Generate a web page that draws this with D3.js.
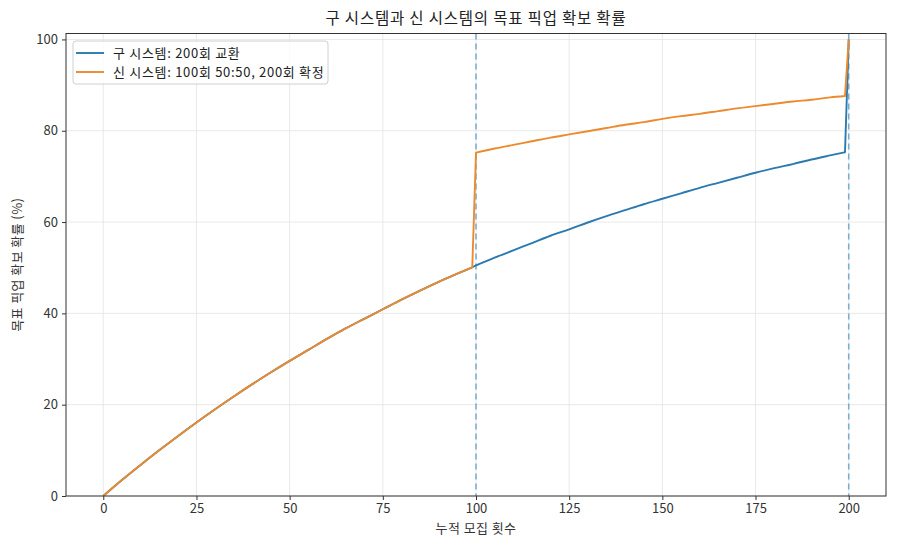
<!DOCTYPE html>
<html><head><meta charset="utf-8">
<script src="https://cdn.jsdelivr.net/npm/d3@7/dist/d3.min.js"></script>
<style>body{margin:0;background:#fff}svg{display:block}text{font-family:"Noto Sans CJK KR","Noto Sans",sans-serif}</style>
</head><body><svg id="c" width="900" height="549"></svg>
<script>
const pulls = [0,5,10,15,20,25,30,35,40,45,50,55,60,65,70,75,80,85,90,95,99,100,105,110,115,120,125,130,135,140,145,150,155,160,165,170,175,180,185,190,195,199,200];
const oldSys = [0,3.5,6.8,10.0,13.1,16.1,19.0,21.8,24.5,27.1,29.6,32.0,34.4,36.7,38.8,40.9,43.0,45.0,46.9,48.7,50.1,50.5,52.2,53.8,55.4,57.0,58.4,59.9,61.3,62.6,63.9,65.1,66.3,67.5,68.6,69.7,70.8,71.8,72.7,73.7,74.6,75.3,100];
const newSys = [0,3.5,6.8,10.0,13.1,16.1,19.0,21.8,24.5,27.1,29.6,32.0,34.4,36.7,38.8,40.9,43.0,45.0,46.9,48.7,50.1,75.2,76.1,76.9,77.7,78.5,79.2,79.9,80.6,81.3,81.9,82.6,83.2,83.7,84.3,84.9,85.4,85.9,86.4,86.8,87.3,87.6,100];
const xTicks = [0,25,50,75,100,125,150,175,200];
const yTicks = [0,20,40,60,80,100];
const markers = [100,200];
const seriesNames = ["구 시스템: 200회 교환","신 시스템: 100회 50:50, 200회 확정"];
const title = "구 시스템과 신 시스템의 목표 픽업 확보 확률";
const xLabel = "누적 모집 횟수";
const yLabel = "목표 픽업 확보 확률 (%)";

const svg = d3.select("#c");
const L=66,R=886,T=33.5,B=496;
const x = d3.scaleLinear().domain([-10,210]).range([L,R]);
const y = d3.scaleLinear().domain([0,101.3]).range([B,T]);
const ink="#333";

svg.append("g").selectAll("line").data(xTicks).join("line")
  .attr("x1",d=>x(d)).attr("x2",d=>x(d)).attr("y1",T).attr("y2",B)
  .attr("stroke","#e3e3e3").attr("stroke-width",0.8);
svg.append("g").selectAll("line").data(yTicks).join("line")
  .attr("x1",L).attr("x2",R).attr("y1",d=>y(d)).attr("y2",d=>y(d))
  .attr("stroke","#e3e3e3").attr("stroke-width",0.8);

svg.append("g").selectAll("line").data(markers).join("line")
  .attr("x1",d=>x(d)).attr("x2",d=>x(d)).attr("y1",T).attr("y2",B)
  .attr("stroke","#1f77b4").attr("stroke-opacity",0.55).attr("stroke-width",1.6)
  .attr("stroke-dasharray","6,4");

const segs = (vals)=>{
  const pts = vals.map((v,i)=>[x(pulls[i]),y(v)]);
  const i1 = pulls.indexOf(99), i2 = pulls.indexOf(199);
  const g = d3.line().curve(d3.curveMonotoneX);
  return g(pts.slice(0,i1+1)) + "L" + g(pts.slice(i1+1,i2+1)).slice(1) + "L" + pts[pts.length-1].join(",");
};
svg.append("clipPath").attr("id","cp").append("rect").attr("x",L).attr("y",T).attr("width",R-L).attr("height",B-T);
svg.append("path").attr("d",segs(oldSys)).attr("fill","none").attr("stroke","#2a7ab0").attr("stroke-width",1.9).attr("stroke-linejoin","round").attr("clip-path","url(#cp)");
svg.append("path").attr("d",segs(newSys)).attr("fill","none").attr("stroke","#ec8a2e").attr("stroke-width",1.9).attr("stroke-linejoin","round").attr("clip-path","url(#cp)");

const xa = svg.append("g").attr("transform",`translate(0,${B})`).call(d3.axisBottom(x).tickValues(xTicks).tickSize(4).tickPadding(4));
const ya = svg.append("g").attr("transform",`translate(${L},0)`).call(d3.axisLeft(y).tickValues(yTicks).tickSize(4).tickPadding(4));
[xa,ya].forEach(a=>{a.select(".domain").remove();a.selectAll("line").attr("stroke",ink);a.selectAll("text").attr("fill",ink).style("font-size","13px").style("font-family",'"Noto Sans CJK KR",sans-serif');});
svg.append("rect").attr("x",L).attr("y",T).attr("width",R-L).attr("height",B-T).attr("fill","none").attr("stroke",ink).attr("stroke-width",1);

svg.append("text").attr("x",(L+R)/2).attr("y",24).attr("text-anchor","middle").attr("fill","#222").style("font-size","15.5px").style("letter-spacing","0.8px").text(title);
svg.append("text").attr("x",(L+R)/2).attr("y",533).attr("text-anchor","middle").attr("fill",ink).style("font-size","13px").style("letter-spacing","0.4px").text(xLabel);
svg.append("text").attr("transform",`translate(22,${(T+B)/2}) rotate(-90)`).attr("text-anchor","middle").attr("fill",ink).style("font-size","13px").style("letter-spacing","0.4px").text(yLabel);

const lg = svg.append("g");
lg.append("rect").attr("x",73).attr("y",41).attr("width",255).attr("height",43).attr("rx",3)
  .attr("fill","#fff").attr("fill-opacity",0.8).attr("stroke","#d0d0d0");
["#2a7ab0","#ec8a2e"].forEach((c,i)=>{
  const yy=53+i*19;
  lg.append("line").attr("x1",76).attr("x2",104).attr("y1",yy).attr("y2",yy).attr("stroke",c).attr("stroke-width",1.9);
  lg.append("text").attr("x",113).attr("y",yy+4.5).attr("fill","#222").style("font-size","13px").style("letter-spacing","0.7px").text(seriesNames[i]);
});
</script></body></html>
